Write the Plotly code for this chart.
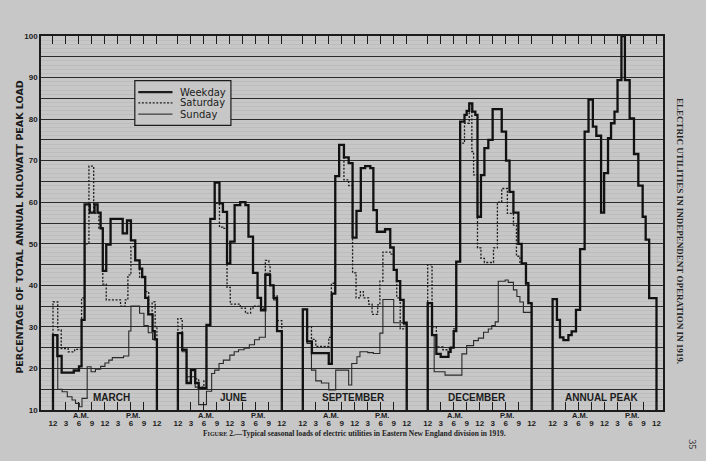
import plotly.graph_objects as go

# ---------------- data (hours -> % of annual peak), step functions ----------------
PANELS = ["MARCH", "JUNE", "SEPTEMBER", "DECEMBER", "ANNUAL PEAK"]
HOUR_TICK_LABELS = ["12", "3", "6", "9", "12", "3", "6", "9", "12"]
HOUR_TICKS = [0, 3, 6, 9, 12, 15, 18, 21, 24]

MARCH_WEEKDAY_H = [0, 1, 2, 4.8, 6, 6.6, 7.3, 8.5, 9.6, 10.3, 11, 11.5, 12.3, 13.3, 16.1, 17.1, 18, 19, 20, 20.6, 21.3, 22, 23, 23.5, 24]
MARCH_WEEKDAY_V = [28, 23, 19, 19.5, 20.5, 31.7, 59.5, 57.5, 59.5, 57.5, 53.7, 43.5, 49.8, 56, 52.5, 55.6, 50.8, 46, 44, 42, 37, 33, 29, 27]
MARCH_SATURDAY_H = [0, 1.1, 1.9, 3.5, 5, 6.6, 7.3, 8.3, 9.4, 10.6, 11.5, 12.3, 15.6, 16.7, 17.3, 18, 19, 20, 21.3, 22.1, 22.9, 23.6, 24]
MARCH_SATURDAY_V = [36, 29.3, 24.8, 24, 24.6, 37, 50, 68.7, 57.4, 53.8, 40.3, 36.5, 35, 36.5, 42.5, 49.3, 46, 42, 38.5, 33, 36, 30]
MARCH_SUNDAY_H = [0, 1.1, 2.1, 3.3, 4.4, 5.2, 6.1, 6.7, 7.9, 8.8, 9.8, 11, 12, 12.9, 13.7, 16.3, 17.5, 18, 20, 21, 22, 23, 24]
MARCH_SUNDAY_V = [28, 15, 14.4, 13.2, 12.4, 11.6, 10.8, 12.8, 20.4, 19.2, 19.8, 20.5, 21.3, 22, 22.6, 23, 29, 35, 33.3, 30.3, 28.6, 27]

JUNE_WEEKDAY_H = [0, 1, 2, 3, 4, 4.8, 6.6, 7.5, 8.5, 9.6, 10.4, 11.35, 12.1, 13.1, 14.4, 15.6, 16.3, 17.35, 18.4, 19.2, 20.2, 21.3, 22.1, 22.9, 24]
JUNE_WEEKDAY_V = [28.5, 24.5, 16.5, 19.6, 16.5, 15.3, 30.5, 56, 64.7, 59.7, 57.7, 45.3, 50.5, 59.3, 60, 59.3, 51.7, 43, 37, 34, 42.5, 40, 37, 29]
JUNE_SATURDAY_H = [0, 1, 2, 3, 4, 4.8, 6, 6.6, 7.5, 8.5, 9.6, 10.4, 11.35, 12.1, 14.4, 15.6, 16.8, 17.35, 19.2, 20.2, 21, 21.3, 22.1, 22.9, 24]
JUNE_SATURDAY_V = [32, 24.5, 17, 19.6, 17.5, 15.5, 17, 30.5, 56, 59.7, 54, 53.7, 39.5, 35.5, 34.5, 33.3, 34.5, 35, 34.5, 46, 45, 40, 37.5, 31.5]
JUNE_SUNDAY_H = [0, 1, 2, 4, 4.8, 6.6, 7.8, 8.5, 9.5, 10.5, 12, 13, 14, 15.3, 16.5, 17.7, 18.8, 20.2, 21.3, 22.1, 22.9, 24]
JUNE_SUNDAY_V = [28.5, 24, 18, 15.5, 11.3, 14.5, 18.8, 19.6, 21.2, 22, 23.2, 24, 24.5, 24.9, 25.7, 26.9, 27.5, 42.9, 40, 36.5, 29]

SEPT_WEEKDAY_H = [0, 1, 2.1, 6, 6.7, 7.5, 8.4, 9.5, 10.6, 11.5, 12.4, 13.4, 14.4, 15.6, 16.3, 17.1, 19, 20.2, 21, 21.7, 22.5, 23.3, 24]
SEPT_WEEKDAY_V = [34.2, 26.5, 23.7, 21.1, 38, 66.3, 73.8, 70.8, 69.4, 51.5, 57.9, 68.2, 68.7, 68.2, 58.1, 52.9, 53.5, 49.1, 43.7, 41, 36.5, 31]
SEPT_SATURDAY_H = [0, 1, 2, 3, 6, 6.6, 7.5, 8.4, 9.5, 10.6, 11.5, 12.3, 13.3, 14, 15.2, 16, 17.3, 17.8, 18.5, 20.2, 21, 21.7, 22.5, 24]
SEPT_SATURDAY_V = [34.2, 30, 27, 25.3, 27.5, 40.5, 66.3, 73.8, 65.4, 64, 43, 37, 38.5, 37, 35.5, 33, 35.3, 41, 48, 47.5, 43.7, 37, 29.5]
SEPT_SUNDAY_H = [0, 1, 2, 3, 4.3, 6, 7.6, 10.6, 11.3, 12.5, 13.2, 15, 16.3, 17.8, 18.5, 21, 23.3, 24]
SEPT_SUNDAY_V = [34.2, 26, 19.6, 17, 16.5, 14.8, 19.6, 16, 21.2, 22.8, 24, 23.8, 23.6, 28.5, 36.6, 31, 30.5]

DEC_WEEKDAY_H = [0, 1, 2, 3, 4.8, 5.3, 6, 6.6, 7.5, 8.5, 9, 9.6, 10.3, 11, 11.5, 12.3, 13.1, 14, 15, 17.1, 18.1, 18.9, 19.8, 20.95, 21.7, 22.7, 23.25, 24]
DEC_WEEKDAY_V = [35.7, 28, 23.5, 22.8, 24, 25, 29, 45.7, 79.4, 81, 82, 83.8, 81.8, 81, 56.5, 66.5, 73, 75, 82.4, 77, 70, 62.5, 57.5, 50, 45.3, 40.5, 35.7]
DEC_SATURDAY_H = [0, 1, 2, 3.5, 5, 6, 6.6, 7.5, 8.5, 9.6, 10.2, 10.6, 11.5, 12.3, 13.1, 15.2, 16.1, 17.1, 18.4, 19.8, 20.5, 21.3, 22.7, 23.3, 24]
DEC_SATURDAY_V = [45, 30, 25.2, 24.5, 25, 29.5, 45.7, 74.2, 79, 83.8, 72.2, 66.6, 49, 46.5, 45.5, 49, 60, 63.3, 57.3, 54.5, 47, 45.3, 40, 35.7]
DEC_SUNDAY_H = [0, 1, 1.5, 4, 7.9, 9, 10.6, 11.7, 12.9, 14, 14.8, 15.6, 16.3, 17.9, 18.6, 19.8, 20.6, 21.3, 22.1, 24]
DEC_SUNDAY_V = [35.7, 28, 19.2, 18.4, 23.5, 25.5, 26.7, 27.3, 28.7, 29.5, 30.3, 31.2, 41, 41.3, 40.7, 38.9, 37.3, 36, 33.5]

PEAK_WEEKDAY_H = [0, 1, 1.7, 2.5, 3.65, 4.4, 5.4, 6.35, 7.4, 8.3, 9.3, 10.1, 11.2, 11.9, 12.8, 13.5, 14.3, 15, 15.9, 16.7, 17.8, 18.8, 19.8, 20.8, 21.5, 22.3, 24]
PEAK_WEEKDAY_V = [36.7, 31.7, 27.5, 26.8, 28, 28.9, 34.1, 48.7, 77, 84.7, 78.2, 76, 57.5, 67, 75.4, 79, 81.8, 89.4, 100, 89.4, 80.2, 71.6, 64, 56.5, 51, 36.9]

WEEKDAY = [(MARCH_WEEKDAY_H, MARCH_WEEKDAY_V), (JUNE_WEEKDAY_H, JUNE_WEEKDAY_V),
           (SEPT_WEEKDAY_H, SEPT_WEEKDAY_V), (DEC_WEEKDAY_H, DEC_WEEKDAY_V),
           (PEAK_WEEKDAY_H, PEAK_WEEKDAY_V)]
SATURDAY = [(MARCH_SATURDAY_H, MARCH_SATURDAY_V), (JUNE_SATURDAY_H, JUNE_SATURDAY_V),
            (SEPT_SATURDAY_H, SEPT_SATURDAY_V), (DEC_SATURDAY_H, DEC_SATURDAY_V)]
SUNDAY = [(MARCH_SUNDAY_H, MARCH_SUNDAY_V), (JUNE_SUNDAY_H, JUNE_SUNDAY_V),
          (SEPT_SUNDAY_H, SEPT_SUNDAY_V), (DEC_SUNDAY_H, DEC_SUNDAY_V)]

# ---------------- layout constants ----------------
OFFSET = 28.85          # hours between panel starts on the shared x axis
BASE = 10
BG = "#c7c7c7"
INK = "#1c1c1c"
LABEL_X = [13.5, 12.8, 11.7, 11.5, 11.4]


def build(series):
    xs, ys = [], []
    for i, (H, V) in enumerate(series):
        off = i * OFFSET
        xs += [H[0] + off] + [h + off for h in H[:-1]] + [H[-1] + off, None]
        ys += [BASE] + list(V) + [BASE, None]
    return xs, ys


fig = go.Figure()
for name, series, width, dash, color in [
    ("Sunday", SUNDAY, 1.1, "solid", "#2a2a2a"),
    ("Saturday", SATURDAY, 1.3, "2px,1.6px", INK),
    ("Weekday", WEEKDAY, 2.3, "solid", "#111111"),
]:
    x, y = build(series)
    fig.add_trace(go.Scatter(x=x, y=y, mode="lines", name=name, showlegend=False,
                             line=dict(shape="hv", width=width, dash=dash, color=color),
                             connectgaps=False, hoverinfo="skip"))

tickvals, ticktext = [], []
for i in range(len(PANELS)):
    for h, t in zip(HOUR_TICKS, HOUR_TICK_LABELS):
        tickvals.append(i * OFFSET + h)
        ticktext.append(t)

yvals = list(range(10, 101, 5))
ytext = [str(v) if v % 10 == 0 else "" for v in yvals]

fig.update_layout(
    width=706, height=461,
    margin=dict(l=41, r=43, t=36, b=51, autoexpand=False),
    paper_bgcolor=BG, plot_bgcolor=BG,
    font=dict(family="Liberation Sans", color=INK),
    xaxis=dict(range=[-2.77, 4 * OFFSET + 24 + 1.5], tickmode="array",
               tickvals=tickvals, ticktext=ticktext, ticks="inside", ticklen=8,
               tickwidth=1.2, tickcolor=INK, showline=True, linecolor=INK,
               linewidth=1.6, mirror="ticks", showgrid=False, zeroline=False,
               automargin=False,
               tickfont=dict(size=8, family="Liberation Sans", weight="bold"),
               ticklabelstandoff=5),
    yaxis=dict(range=[10, 100], tickmode="array", tickvals=yvals, ticktext=ytext,
               showgrid=True, gridcolor="#2b2b2b", gridwidth=1.3,
               minor=dict(dtick=1, tick0=10, showgrid=True, gridcolor="#bdbdbd", gridwidth=0.6),
               showline=True, linecolor=INK, linewidth=1.6, mirror=True,
               ticks="", zeroline=False, automargin=False,
               tickfont=dict(size=8, family="Liberation Sans", weight="bold")),
)

# y-axis title
fig.add_annotation(x=-0.034, y=0.49, xref="paper", yref="paper", showarrow=False,
                   text="PERCENTAGE OF TOTAL ANNUAL KILOWATT PEAK LOAD", textangle=-90,
                   font=dict(size=9.5, family="DejaVu Sans", weight="bold", color=INK),
                   xanchor="center", yanchor="middle")

# panel names and A.M./P.M.
for i, name in enumerate(PANELS):
    fig.add_annotation(x=i * OFFSET + LABEL_X[i], y=12.9, text=name, showarrow=False,
                       font=dict(size=10, family="Liberation Sans", weight="bold"),
                       xanchor="center", yanchor="middle")
    for h, t in [(6.4, "A.M."), (18.4, "P.M.")]:
        fig.add_annotation(x=i * OFFSET + h, y=-0.014, yref="paper", text=t,
                           showarrow=False, xanchor="center", yanchor="middle",
                           font=dict(size=7.5, family="Liberation Sans", weight="bold"))

# legend box (drawn in data space)
fig.add_shape(type="rect", x0=18.9, x1=41.1, y0=78.5, y1=89.25,
              line=dict(color=INK, width=1.2), fillcolor=BG, layer="above")
for yv, name, width, dash in [(86.5, "Weekday", 2.2, "solid"),
                               (83.9, "Saturday", 1.2, "2px,1.6px"),
                               (81.2, "Sunday", 1.0, "solid")]:
    fig.add_shape(type="line", x0=19.7, x1=27.6, y0=yv, y1=yv,
                  line=dict(color=INK, width=width, dash=dash), layer="above")
    fig.add_annotation(x=28.9, y=yv, text=name, showarrow=False, xanchor="left",
                       yanchor="middle", font=dict(size=10, family="DejaVu Sans", color=INK))

# caption, running head, page number
fig.add_annotation(x=0.504, y=-0.064, xref="paper", yref="paper", showarrow=False,
                   text="F<span style='font-size:6px'>IGURE</span> 2.—Typical seasonal loads of electric utilities in Eastern New England division in 1919.",
                   font=dict(size=7.5, family="Liberation Serif", weight="bold", color="#222"),
                   xanchor="center", yanchor="middle")
fig.add_annotation(x=1.027, y=0.479, xref="paper", yref="paper", showarrow=False,
                   text="ELECTRIC UTILITIES IN INDEPENDENT OPERATION IN 1919.",
                   textangle=90, font=dict(size=9, family="Liberation Serif", weight="bold", color="#222"),
                   xanchor="center", yanchor="middle")
fig.add_annotation(x=1.048, y=-0.091, xref="paper", yref="paper", showarrow=False,
                   text="35", textangle=90,
                   font=dict(size=10, family="Liberation Serif", color="#222"),
                   xanchor="center", yanchor="middle")

fig.write_html("out.html", config={"displayModeBar": False},
               post_script="document.body.style.margin='0';document.body.style.background='%s';" % BG)
